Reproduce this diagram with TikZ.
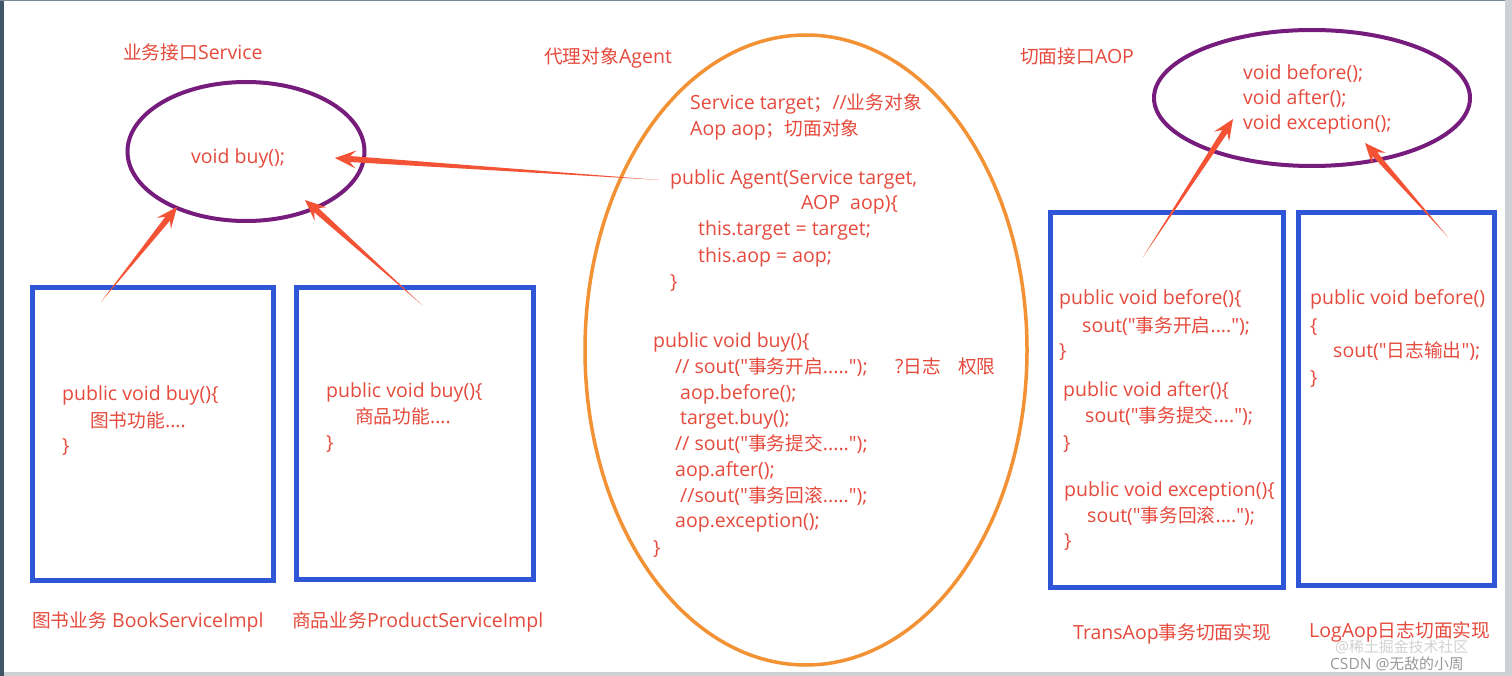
\documentclass[tikz,border=0pt]{standalone}
\usepackage{fontspec}
\setmainfont{Open Sans}[Ligatures=TeXOff]
\newfontfamily\cjk{Noto Sans CJK SC}[Scale=0.96]
\usetikzlibrary{calc,shapes.geometric}
\definecolor{txt}{RGB}{230,74,60}
\definecolor{arrowred}{RGB}{244,82,52}
\definecolor{purp}{RGB}{118,28,124}
\definecolor{boxblue}{RGB}{46,86,214}
\definecolor{orng}{RGB}{242,146,52}
\definecolor{edgedark}{RGB}{62,86,102}
\definecolor{edgegray}{RGB}{205,208,212}
\newcommand\zh[1]{{\cjk #1}}
\newcommand\taperarrow[2]{%
  \coordinate (tmpn) at ($(#2)!15pt!(#1)$);
  \coordinate (tmph) at ($(#2)!21pt!(#1)$);
  \fill[arrowred] (#1)
    -- ($(tmpn)!3pt!90:(#2)$)
    -- ($(tmph)!9pt!90:(#2)$)
    -- (#2)
    -- ($(tmph)!9pt!-90:(#2)$)
    -- ($(tmpn)!3pt!-90:(#2)$)
    -- cycle;}
\tikzset{
  code/.style={text=txt, font=\fontsize{19.5}{24}\selectfont, inner sep=0pt, anchor=base west},
  wmark/.style={font=\fontsize{15.5}{18}\selectfont, inner sep=0pt, anchor=base west},
  implbox/.style={draw=boxblue, line width=5pt},
}
\newcommand\codeline[4]{\node[code] (#1) at (#2,#3+7) {#4};}
\begin{document}
\begin{tikzpicture}[x=1pt,y=-1pt]
\useasboundingbox (0,0) rectangle (1512,676);
\fill[white] (0,0) rectangle (1512,676);
% screen edges
\fill[edgedark] (0,0) rectangle (4,676);
\fill[edgedark!70] (0,0) rectangle (1512,1.5);
\fill[edgegray] (1505,0) rectangle (1512,676);
\fill[edgegray] (4,672) rectangle (1512,676);

% titles
\codeline{L1}{123}{53}{\zh{业务接口}Service}
\codeline{L2}{544}{57}{\zh{代理对象}Agent}
\codeline{L3}{1020}{57}{\zh{切面接口}AOP}

% service interface ellipse
\node[draw=purp, line width=4pt, shape=ellipse, inner sep=0pt, minimum width=237pt, minimum height=139pt] (svc) at (246,151.5) {};
\codeline{svctext}{191}{157}{void buy();}

% implementation boxes
\node[implbox, minimum width=241pt, minimum height=293pt, inner sep=0pt] (book) at (153,434) {};
\node[implbox, minimum width=237pt, minimum height=292pt, inner sep=0pt] (prod) at (415,433.5) {};
\codeline{b1a}{62}{393}{public void buy()\{}
\codeline{b1b}{90}{420}{\zh{图书功能}....}
\codeline{b1c}{62}{445}{\}}
\codeline{b2a}{326}{390}{public void buy()\{}
\codeline{b2b}{355}{416}{\zh{商品功能}....}
\codeline{b2c}{326}{442}{\}}
\codeline{L4}{32}{620}{\zh{图书业务} BookServiceImpl}
\codeline{L5}{292}{620}{\zh{商品业务}ProductServiceImpl}

% agent ellipse
\node[draw=orng, line width=3.5pt, shape=ellipse, inner sep=0pt, minimum width=442pt, minimum height=630pt] (agent) at (806,350) {};
\codeline{g1}{690}{103}{Service target\zh{；}//\zh{业务对象}}
\codeline{g2}{690}{129}{Aop aop\zh{；}\zh{切面对象}}
\codeline{g3}{670}{178}{public Agent(Service target,}
\codeline{g4}{801}{203}{AOP\ \ aop)\{}
\codeline{g5}{698}{229}{this.target = target;}
\codeline{g6}{698}{255}{this.aop = aop;}
\codeline{g7}{670}{281}{\}}
\codeline{g8}{653}{340}{public void buy()\{}
\codeline{g9}{675}{366}{// sout("\zh{事务开启}.....");}
\codeline{g10}{895}{366}{?\zh{日志}}
\codeline{g11}{958}{366}{\zh{权限}}
\codeline{g12}{680}{392}{aop.before();}
\codeline{g13}{680}{417}{target.buy();}
\codeline{g14}{675}{443}{// sout("\zh{事务提交}.....");}
\codeline{g15}{675}{469}{aop.after();}
\codeline{g16}{680}{495}{//sout("\zh{事务回滚}.....");}
\codeline{g17}{675}{520}{aop.exception();}
\codeline{g18}{653}{547}{\}}

% aop interface ellipse
\node[draw=purp, line width=4pt, shape=ellipse, inner sep=0pt, minimum width=316pt, minimum height=136pt] (aop) at (1312,98) {};
\codeline{r1}{1243}{73}{void before();}
\codeline{r2}{1243}{98}{void after();}
\codeline{r3}{1243}{123}{void exception();}

% aspect boxes
\node[implbox, minimum width=233pt, minimum height=375pt, inner sep=0pt] (trans) at (1167,400) {};
\node[implbox, minimum width=196pt, minimum height=373pt, inner sep=0pt] (log) at (1396.5,399) {};
\codeline{t1}{1059}{298}{public void before()\{}
\codeline{t2}{1082}{325}{sout("\zh{事务开启}....");}
\codeline{t3}{1059}{350}{\}}
\codeline{t4}{1063}{389}{public void after()\{}
\codeline{t5}{1085}{415}{sout("\zh{事务提交}....");}
\codeline{t6}{1063}{442}{\}}
\codeline{t7}{1064}{489}{public void exception()\{}
\codeline{t8}{1087}{515}{sout("\zh{事务回滚}....");}
\codeline{t9}{1064}{540}{\}}
\codeline{q1}{1310}{298}{public void before()}
\codeline{q2}{1310}{325}{\{}
\codeline{q3}{1333}{350}{sout("\zh{日志输出}");}
\codeline{q4}{1310}{377}{\}}
\codeline{L6}{1073}{632}{TransAop\zh{事务切面实现}}
\codeline{L7}{1309}{630}{LogAop\zh{日志切面实现}}

% watermark
\node[wmark, text=black!18] (wm1) at (1335,652) {@\zh{稀土掘金技术社区}};
\node[wmark, text=black!40] (wm2) at (1330,669) {CSDN @\zh{无敌的小周}};

% arrows
\coordinate (a1s) at (101,302); \coordinate (a1t) at (177,207);
\coordinate (a2s) at (422,305); \coordinate (a2t) at (305,200);
\coordinate (a3s) at (660,180); \coordinate (a3t) at (335,158);
\coordinate (a4s) at (1143,257); \coordinate (a4t) at (1233,119);
\coordinate (a5s) at (1448,237); \coordinate (a5t) at (1365,143);
\taperarrow{a1s}{a1t}
\taperarrow{a2s}{a2t}
\taperarrow{a3s}{a3t}
\taperarrow{a4s}{a4t}
\taperarrow{a5s}{a5t}
\end{tikzpicture}
\end{document}
